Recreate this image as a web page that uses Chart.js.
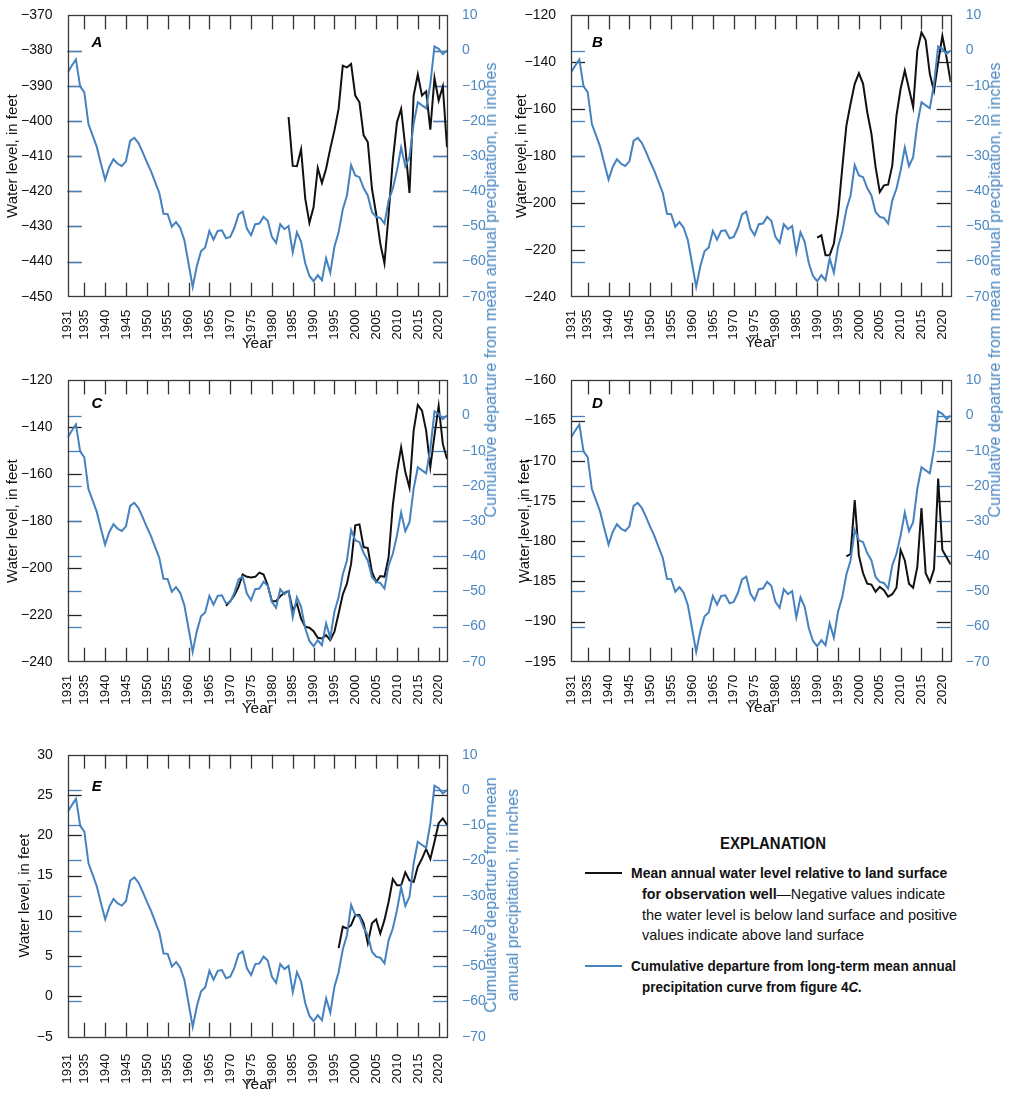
<!DOCTYPE html>
<html>
<head>
<meta charset="utf-8">
<script src="https://cdn.jsdelivr.net/npm/chart.js@4.4.0/dist/chart.umd.min.js"></script>
<style>
  body { margin: 0; background: #fff; }
  #page { position: relative; width: 1010px; height: 1096px; overflow: hidden;
          font-family: 'Liberation Sans', Arial, sans-serif; }
  .panel { position: absolute; }
  .rtitle { position: absolute; transform: translate(-50%, -50%) rotate(-90deg); white-space: nowrap;
            color: #4b87c1; font-size: 17px; line-height: 22px; text-align: center; }
  .lg { position: absolute; font-size: 15px; line-height: 20.7px; white-space: nowrap; color: #111;
        transform-origin: left center; }
  .swatch { position: absolute; height: 0; width: 37px; border-top: 2px solid; }
</style>
</head>
<body>
<div id="page">
  <div class="panel" style="left:0;top:0"><canvas id="cA" width="500" height="365"></canvas></div>
  <div class="panel" style="left:500px;top:0"><canvas id="cB" width="510" height="365"></canvas></div>
  <div class="panel" style="left:0;top:365px"><canvas id="cC" width="500" height="365"></canvas></div>
  <div class="panel" style="left:500px;top:365px"><canvas id="cD" width="510" height="365"></canvas></div>
  <div class="panel" style="left:0;top:725px"><canvas id="cE" width="500" height="371"></canvas></div>

  <div class="rtitle" data-w="455" style="left:491px;top:290px">Cumulative departure from mean annual precipitation, in inches</div>
  <div class="rtitle" data-w="455" style="left:995px;top:290px">Cumulative departure from mean annual precipitation, in inches</div>
  <div class="rtitle" data-w="236" style="left:502px;top:895px">Cumulative departure from mean<br>annual precipitation, in inches</div>

  <div class="lg" data-w="106" data-c="773" style="top:833px;font-weight:bold;font-size:16.5px">EXPLANATION</div>
  <div class="swatch" style="left:585px;top:872px;border-color:#111"></div>
  <div class="lg" data-w="316" style="left:631px;top:863px"><b>Mean annual water level relative to land surface</b></div>
  <div class="lg" data-w="303" style="left:642px;top:884px"><b>for observation well</b>—Negative values indicate</div>
  <div class="lg" data-w="315" style="left:642px;top:905px">the water level is below land surface and positive</div>
  <div class="lg" data-w="222" style="left:642px;top:925px">values indicate above land surface</div>
  <div class="swatch" style="left:585px;top:965px;border-color:#4682bf"></div>
  <div class="lg" data-w="325" style="left:631px;top:956px"><b>Cumulative departure from long-term mean annual</b></div>
  <div class="lg" data-w="220" style="left:642px;top:977px"><b>precipitation curve from figure 4<i>C.</i></b></div>
</div>
<script>
// years on the x axis and the labels shown
const years = [1931,1932,1933,1934,1935,1936,1937,1938,1939,1940,1941,1942,1943,1944,1945,1946,1947,1948,1949,1950,
  1951,1952,1953,1954,1955,1956,1957,1958,1959,1960,1961,1962,1963,1964,1965,1966,1967,1968,1969,1970,
  1971,1972,1973,1974,1975,1976,1977,1978,1979,1980,1981,1982,1983,1984,1985,1986,1987,1988,1989,1990,
  1991,1992,1993,1994,1995,1996,1997,1998,1999,2000,2001,2002,2003,2004,2005,2006,2007,2008,2009,2010,
  2011,2012,2013,2014,2015,2016,2017,2018,2019,2020,2021,2022];
const xTickYears = [1931,1935,1940,1945,1950,1955,1960,1965,1970,1975,1980,1985,1990,1995,2000,2005,2010,2015,2020];

// cumulative departure from mean annual precipitation, inches (same curve in every panel)
const precipDeparture = [-6.2,-4.3,-2.5,-10.2,-11.8,-20.9,-24.1,-27.4,-32.2,-36.7,
  -33.1,-30.9,-32.2,-32.8,-31.5,-25.7,-24.8,-26.3,-28.9,-31.7,
  -34.3,-37.4,-40.5,-46.4,-46.5,-50.1,-48.8,-50.4,-53.9,-60.5,
  -67.2,-61.3,-57.1,-56.0,-51.3,-53.8,-51.3,-51.1,-53.4,-53.0,
  -50.4,-46.6,-45.8,-50.6,-52.5,-49.4,-49.2,-47.3,-48.4,-53.0,
  -54.7,-49.4,-50.8,-49.9,-57.4,-51.7,-54.4,-60.5,-64.1,-65.6,
  -63.9,-65.3,-59.1,-63.2,-55.8,-51.7,-45.2,-41.2,-32.6,-35.5,
  -36.0,-39.1,-41.2,-45.9,-47.3,-47.6,-49.2,-42.6,-39.3,-34.1,
  -27.6,-32.9,-30.3,-20.8,-14.7,-15.6,-16.4,-9.5,1.2,0.5,
  -1.0,0.0];

// mean annual water level, feet (first year of each record given separately)
const wellAStart = 1984;
const wellA = [-398.9,-412.8,-412.9,-408.1,-422.1,-429.0,-424.5,-413.4,-417.7,-413.6,
  -407.9,-402.7,-396.6,-384.3,-384.8,-383.8,-392.8,-394.7,-404.1,-406.0,
  -419.3,-426.4,-434.9,-440.5,-426.4,-411.2,-400.4,-396.6,-407.5,-420.5,
  -392.8,-386.8,-392.8,-391.6,-402.5,-387.8,-394.2,-390.2,-407.5];
const wellBStart = 1990;
const wellB = [-214.8,-213.8,-222.3,-222.3,-217.3,-204.5,-185.4,-167.0,-157.7,-149.2,
  -144.7,-149.2,-161.3,-170.5,-184.7,-195.3,-192.5,-192.2,-184.0,-162.7,
  -151.3,-143.5,-151.3,-159.1,-135.0,-127.2,-130.5,-145.0,-152.3,-140.0,
  -128.7,-137.9,-148.5];
const wellCStart = 1969;
const wellC = [-216.2,-214.2,-211.6,-208.1,-202.8,-203.8,-204.1,-203.8,-202.0,-202.8,
  -207.4,-214.2,-214.2,-212.1,-210.6,-209.9,-218.0,-215.2,-221.6,-225.1,
  -225.5,-227.0,-229.8,-230.1,-228.7,-230.8,-227.2,-219.4,-211.3,-206.7,
  -198.2,-181.8,-181.4,-191.1,-191.5,-201.7,-206.0,-203.5,-203.8,-195.3,
  -173.3,-159.1,-148.5,-159.1,-165.8,-141.4,-130.5,-132.9,-141.4,-157.0,
  -143.5,-130.8,-147.1,-153.5];
const wellDStart = 1997;
const wellD = [-181.9,-181.6,-174.9,-181.8,-184.0,-185.3,-185.4,-186.3,-185.7,-186.1,
  -186.9,-186.6,-185.8,-181.1,-182.4,-185.3,-185.8,-183.2,-175.9,-184.0,
  -185.1,-183.5,-172.2,-181.1,-182.0,-182.9];
const wellEStart = 1996;
const wellE = [6.0,8.65,8.44,8.86,10.1,10.1,9.07,6.6,9.07,9.56,
  7.8,9.5,11.75,14.57,13.8,13.8,15.4,14.4,14.2,16.1,
  17.1,18.3,17.05,19.2,21.5,22.1,21.3];

const FONT = "'Liberation Sans', Arial, sans-serif";
const BLUE = '#4682bf';
const BLUE_TEXT = '#4b87c1';
Chart.defaults.font.family = FONT;

const fmt = v => (v < 0 ? '\u2212' + Math.abs(v) : String(v));

// squeeze the html labels to the lengths they have in the figure (condensed type)
document.querySelectorAll('.rtitle').forEach(el => {
  const s = +el.dataset.w / el.offsetWidth;
  el.style.transform = `translate(-50%, -50%) rotate(-90deg) scaleX(${s})`;
});
document.querySelectorAll('.lg').forEach(el => {
  const s = +el.dataset.w / el.offsetWidth;
  if (el.dataset.c) el.style.left = (+el.dataset.c - +el.dataset.w / 2) + 'px';
  el.style.transform = `scaleX(${s})`;
});

// short tick marks pointing into the plot, plus the frame and panel letter
const innerTicks = {
  id: 'innerTicks',
  beforeDatasetsDraw(chart, args, opts) {
    const {ctx, chartArea: a, scales} = chart;
    const L = 14;
    const seg = (x1, y1, x2, y2) => { ctx.beginPath(); ctx.moveTo(x1, y1); ctx.lineTo(x2, y2); ctx.stroke(); };
    // ticks at the ends of a scale would sit on the frame, so leave them out
    const inner = s => s.ticks.filter(t => t.value > s.min && t.value < s.max);
    ctx.save();
    ctx.lineWidth = 1.3;
    ctx.strokeStyle = '#333';
    inner(scales.x).forEach(t => {
      const px = Math.round(scales.x.getPixelForValue(t.value)) + 0.5;
      seg(px, a.top, px, a.top + L);
      seg(px, a.bottom - L, px, a.bottom);
    });
    ctx.strokeStyle = '#222';
    inner(scales.y).forEach(t => {
      const py = Math.round(scales.y.getPixelForValue(t.value)) + 0.5;
      seg(a.left, py, a.left + L, py);
      seg(a.right - L, py, a.right, py);
    });
    ctx.strokeStyle = BLUE;
    inner(scales.y2).forEach(t => {
      const py = Math.round(scales.y2.getPixelForValue(t.value)) + 0.5;
      seg(a.left, py, a.left + L, py);
      seg(a.right - L, py, a.right, py);
    });
    ctx.restore();
  },
  afterDraw(chart, args, opts) {
    const {ctx, chartArea: a} = chart;
    ctx.save();
    ctx.strokeStyle = '#3a3a3a';
    ctx.lineWidth = 1.3;
    ctx.strokeRect(Math.round(a.left) + 0.5, Math.round(a.top) + 0.5, Math.round(a.right - a.left), Math.round(a.bottom - a.top));
    ctx.fillStyle = '#000';
    ctx.font = 'italic bold 15px ' + FONT;
    ctx.fillText(opts.letter, a.left + opts.lx, a.top + opts.ly);
    ctx.restore();
  }
};

function makePanel(id, p) {
  const off = years.indexOf(p.start);
  const levelPts = p.level.map((v, i) => ({x: years[off + i], y: v}));
  const precipPts = precipDeparture.map((v, i) => ({x: years[i], y: v}));
  return new Chart(document.getElementById(id), {
    type: 'line',
    data: {
      datasets: [
        {label: 'Cumulative departure', data: precipPts, yAxisID: 'y2', borderColor: BLUE, borderWidth: 2,
         pointRadius: 0, tension: 0, order: 0},
        {label: 'Water level', data: levelPts, yAxisID: 'y', borderColor: '#111', borderWidth: 2,
         pointRadius: 0, tension: 0, order: 1}
      ]
    },
    options: {
      responsive: false,
      animation: false,
      layout: {padding: {top: p.area.top, left: 0, right: 0, bottom: 0}},
      plugins: {legend: {display: false}, tooltip: {enabled: false},
                innerTicks: {letter: p.letter, lx: p.lx, ly: p.ly}},
      scales: {
        x: {
          type: 'linear', min: 1931, max: 2022,
          afterBuildTicks: s => { s.ticks = xTickYears.map(v => ({value: v})); },
          afterFit: s => { s.height = p.h - p.area.bottom; },
          grid: {display: false}, border: {display: false},
          ticks: {autoSkip: false, minRotation: 90, maxRotation: 90, padding: p.xPad, color: '#111',
                  font: {size: 13.5}, callback: v => String(v)},
          title: {display: true, text: 'Year', color: '#111', font: {size: 15.5}, padding: {top: 0, bottom: p.yearPad}}
        },
        y: {
          type: 'linear', position: 'left', min: p.min, max: p.max,
          afterFit: s => { s.width = p.area.left; },
          grid: {display: false}, border: {display: false},
          ticks: {stepSize: p.step, padding: 7, color: '#111', font: {size: 14}, callback: fmt},
          title: {display: true, text: 'Water level, in feet', color: '#111', font: {size: 15},
                  padding: {top: p.titlePad, bottom: 0}}
        },
        y2: {
          type: 'linear', position: 'right', min: -70, max: 10,
          afterFit: s => { s.width = p.w - p.area.right; },
          grid: {display: false}, border: {display: false},
          ticks: {stepSize: 10, padding: 7, color: BLUE_TEXT, font: {size: 14}, callback: fmt}
        }
      }
    },
    plugins: [innerTicks]
  });
}

const leftArea = {left: 67.6, top: 14.7, right: 447, bottom: 296.7};
const rightArea = {left: 71, top: 14.7, right: 450.7, bottom: 296.7};

makePanel('cA', {letter: 'A', lx: 24, ly: 32, w: 500, h: 365, area: leftArea, min: -450, max: -370, step: 10,
  start: wellAStart, level: wellA, xPad: 5, yearPad: 12, titlePad: 4});
makePanel('cB', {letter: 'B', lx: 21, ly: 32, w: 510, h: 365, area: rightArea, min: -240, max: -120, step: 20,
  start: wellBStart, level: wellB, xPad: 5, yearPad: 13, titlePad: 12.5});
makePanel('cC', {letter: 'C', lx: 24, ly: 28, w: 500, h: 365, area: leftArea, min: -240, max: -120, step: 20,
  start: wellCStart, level: wellC, xPad: 5, yearPad: 12, titlePad: 4});
makePanel('cD', {letter: 'D', lx: 21, ly: 28, w: 510, h: 365, area: rightArea, min: -195, max: -160, step: 5,
  start: wellDStart, level: wellD, xPad: 5, yearPad: 13, titlePad: 16});
makePanel('cE', {letter: 'E', lx: 24, ly: 36, w: 500, h: 371, area: {left: 67.7, top: 29.7, right: 447, bottom: 311.7},
  min: -5, max: 30, step: 5, start: wellEStart, level: wellE, xPad: 9, yearPad: 2, titlePad: 16});
</script>
</body>
</html>
